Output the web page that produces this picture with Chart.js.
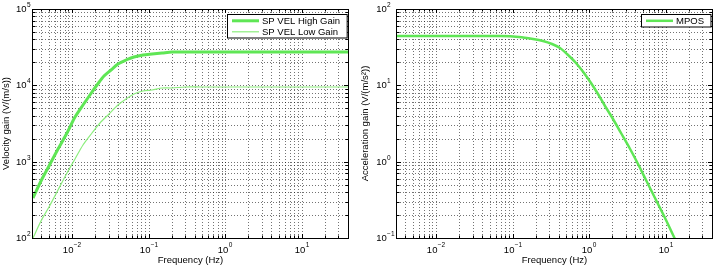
<!DOCTYPE html>
<html><head><meta charset="utf-8">
<script src="https://cdn.jsdelivr.net/npm/chart.js@4"></script>
<style>
html,body{margin:0;padding:0;background:#fff;width:715px;height:268px;overflow:hidden}
#l{position:absolute;left:0;top:0}
#r{position:absolute;left:357px;top:0}
</style></head><body>
<canvas id="l" width="357" height="268"></canvas>
<canvas id="r" width="358" height="268"></canvas>
<script>
// ---- data ----
const freqMin = 0.0031, freqMax = 40;
const freqDecades = [-2, -1, 0, 1];
const velDecades = [2, 3, 4, 5];
const accDecades = [-1, 0, 1, 2];

const velHighFreq = [0.0031, 0.004, 0.005, 0.0065, 0.0085, 0.011, 0.014, 0.018, 0.021, 0.026, 0.032, 0.04, 0.05, 0.065, 0.085, 0.11, 0.15, 0.2, 0.3, 0.5, 1, 40];
const velHighGain = [330, 560, 880, 1480, 2380, 3800, 5600, 8300, 10100, 13200, 16000, 18900, 21300, 23500, 25000, 26000, 26700, 27050, 27300, 27450, 27500, 27500];

const velLowFreq = [0.0031, 0.004, 0.005, 0.0065, 0.0085, 0.011, 0.014, 0.018, 0.023, 0.03, 0.04, 0.05, 0.065, 0.085, 0.11, 0.15, 0.2, 0.3, 0.5, 1, 40];
const velLowGain = [100, 165, 255, 420, 700, 1100, 1650, 2350, 3200, 4250, 5600, 6600, 7600, 8350, 8800, 9150, 9300, 9380, 9420, 9440, 9440];

const mposFreq = [0.0031, 0.03, 0.07, 0.12, 0.185, 0.25, 0.33, 0.412, 0.52, 0.68, 0.85, 1.05, 1.3, 1.6, 2.04, 2.6, 3.3, 4.18, 5.5, 7.5, 10, 12.6, 16];
const mposGain = [44.4, 44.3, 43.8, 42.8, 41.0, 38.5, 35.0, 31.0, 26.0, 19.5, 14.4, 10.6, 7.6, 5.43, 3.61, 2.37, 1.545, 0.995, 0.583, 0.312, 0.1725, 0.104, 0.0646];

const seriesNames = ['SP VEL High Gain', 'SP VEL Low Gain', 'MPOS'];
const colHigh = 'rgb(95,230,85)', colLow = 'rgb(140,238,125)', colMpos = 'rgb(95,230,85)';

// ---- helpers ----
const FONT = '"Liberation Sans", Arial, Helvetica, sans-serif';
Chart.defaults.font.family = FONT;
const pts = (xs, ys) => xs.map((x, i) => ({x, y: ys[i]}));
function logTicks(decades) {
  const out = [];
  const lo = decades[0], hi = decades[decades.length - 1];
  for (let e = lo - 1; e <= hi; e++) for (let m = 1; m <= 9; m++) out.push(m * Math.pow(10, e));
  out.push(Math.pow(10, hi + 1));
  return out;
}
const isMajor = v => Math.abs(Math.log10(v) - Math.round(Math.log10(v))) < 1e-9;
const expStr = e => (e < 0 ? '\u2212' + Math.abs(e) : String(e));

function matlabPlugin(xDec, yDec, legend) {
  return {
    id: 'matlab',
    afterDraw(chart) {
      const ctx = chart.ctx, a = chart.chartArea;
      const xs = chart.scales.x, ys = chart.scales.y;
      ctx.save();
      ctx.setLineDash([]);
      ctx.strokeStyle = '#000';
      ctx.lineWidth = 1;
      // inside ticks
      ctx.beginPath();
      xs.ticks.forEach(t => {
        if (t.value < xs.min * 0.999 || t.value > xs.max * 1.001) return;
        const p = Math.round(xs.getPixelForValue(t.value)) + 0.5;
        const len = isMajor(t.value) ? 4 : 2.5;
        ctx.moveTo(p, a.bottom); ctx.lineTo(p, a.bottom - len);
        ctx.moveTo(p, a.top); ctx.lineTo(p, a.top + len);
      });
      ys.ticks.forEach(t => {
        if (t.value < ys.min * 0.999 || t.value > ys.max * 1.001) return;
        const p = Math.round(ys.getPixelForValue(t.value)) + 0.5;
        const len = isMajor(t.value) ? 4 : 2.5;
        ctx.moveTo(a.left, p); ctx.lineTo(a.left + len, p);
        ctx.moveTo(a.right, p); ctx.lineTo(a.right - len, p);
      });
      ctx.stroke();
      // box
      ctx.strokeRect(a.left - 0.5, a.top + 0.5, a.right - a.left + 1, a.bottom - a.top);
      // tick labels
      ctx.fillStyle = '#000';
      ctx.textBaseline = 'middle';
      ctx.textAlign = 'left';
      const big = '9.5px ' + FONT, small = '6.5px ' + FONT;
      ctx.font = big; const w10 = ctx.measureText('10').width;
      xDec.forEach(e => {
        const p = xs.getPixelForValue(Math.pow(10, e));
        ctx.font = small; const we = ctx.measureText(expStr(e)).width;
        const s = p - (w10 + 0.3 + we) / 2;
        ctx.font = big; ctx.fillText('10', s, a.bottom + 12);
        ctx.font = small; ctx.fillText(expStr(e), s + w10 + 0.3, a.bottom + 7.7);
      });
      ctx.font = small;
      let maxWe = 0;
      yDec.forEach(e => { maxWe = Math.max(maxWe, ctx.measureText(expStr(e)).width); });
      const r10 = a.left - 2.5 - maxWe - 0.3;
      yDec.forEach(e => {
        const p = ys.getPixelForValue(Math.pow(10, e));
        ctx.font = big; ctx.fillText('10', r10 - w10, p + 0.8);
        ctx.font = small; ctx.fillText(expStr(e), r10 + 0.3, p - 3.3);
      });
      // legend
      ctx.font = big;
      let tw = 0;
      legend.forEach(it => { tw = Math.max(tw, ctx.measureText(it.label).width); });
      const bw = 4.5 + 27 + 3 + tw + 7;
      const bh = 11 * (legend.length - 1) + 12.5;
      const bx = Math.round(a.right - 1.3 - bw) + 0.5, by = a.top + 5.5;
      ctx.fillStyle = '#fff';
      ctx.fillRect(bx, by, bw, bh);
      ctx.strokeStyle = '#000';
      ctx.lineWidth = 1;
      ctx.strokeRect(bx, by, bw, bh);
      legend.forEach((it, i) => {
        const y = by + 6.3 + 11 * i;
        ctx.strokeStyle = it.color; ctx.lineWidth = it.width;
        ctx.beginPath(); ctx.moveTo(bx + 4.5, y); ctx.lineTo(bx + 31.5, y); ctx.stroke();
        ctx.fillStyle = '#000';
        ctx.fillText(it.label, bx + 34.5, y + 0.5);
      });
      ctx.restore();
    }
  };
}

function makeChart(id, datasets, yMin, yMax, yDec, yTitle, yWidth, padRight, yTitlePad, legend) {
  return new Chart(document.getElementById(id), {
    type: 'line',
    data: {datasets},
    options: {
      responsive: false,
      animation: false,
      devicePixelRatio: 1,
      layout: {padding: {left: 0, right: padRight, top: 9, bottom: 0}},
      plugins: {legend: {display: false}, tooltip: {enabled: false}},
      elements: {point: {radius: 0}, line: {tension: 0.3}},
      scales: {
        x: {
          type: 'logarithmic', min: freqMin, max: freqMax,
          afterBuildTicks: s => { s.ticks = logTicks(freqDecades).filter(v => v >= freqMin * 0.999 && v <= freqMax * 1.001).map(v => ({value: v})); },
          afterFit: s => { s.height = 30; },
          ticks: {display: false},
          grid: {color: 'rgba(0,0,0,0.55)', lineWidth: 1, drawTicks: false},
          border: {display: false, dash: [1, 2]},
          alignToPixels: true,
          title: {display: true, text: 'Frequency (Hz)', color: '#000', font: {size: 9.5}, padding: {top: 0, bottom: 1.6}}
        },
        y: {
          type: 'logarithmic', min: yMin, max: yMax,
          afterBuildTicks: s => { s.ticks = logTicks(yDec).filter(v => v >= yMin * 0.999 && v <= yMax * 1.001).map(v => ({value: v})); },
          afterFit: s => { s.width = yWidth; },
          ticks: {display: false},
          grid: {color: 'rgba(0,0,0,0.55)', lineWidth: 1, drawTicks: false},
          border: {display: false, dash: [1, 2]},
          alignToPixels: true,
          title: {display: true, text: yTitle, color: '#000', font: {size: 9.5}, padding: {top: yTitlePad, bottom: 0}}
        }
      }
    },
    plugins: [matlabPlugin(freqDecades, yDec, legend)]
  });
}

makeChart('l', [
  {label: seriesNames[0], data: pts(velHighFreq, velHighGain), borderColor: colHigh, borderWidth: 3, fill: false},
  {label: seriesNames[1], data: pts(velLowFreq, velLowGain), borderColor: colLow, borderWidth: 1.2, fill: false}
], 100, 100000, velDecades, 'Velocity gain (V/(m/s))', 33, 9, 0.8, [
  {label: seriesNames[0], color: colHigh, width: 3},
  {label: seriesNames[1], color: colLow, width: 1.2}
]);

makeChart('r', [
  {label: seriesNames[2], data: pts(mposFreq, mposGain), borderColor: colMpos, borderWidth: 2.5, fill: false}
], 0.1, 100, accDecades, 'Acceleration gain (V/(m/s\u00B2))', 40, 3, 2.8, [
  {label: seriesNames[2], color: colMpos, width: 2.5}
]);
</script>
</body></html>
